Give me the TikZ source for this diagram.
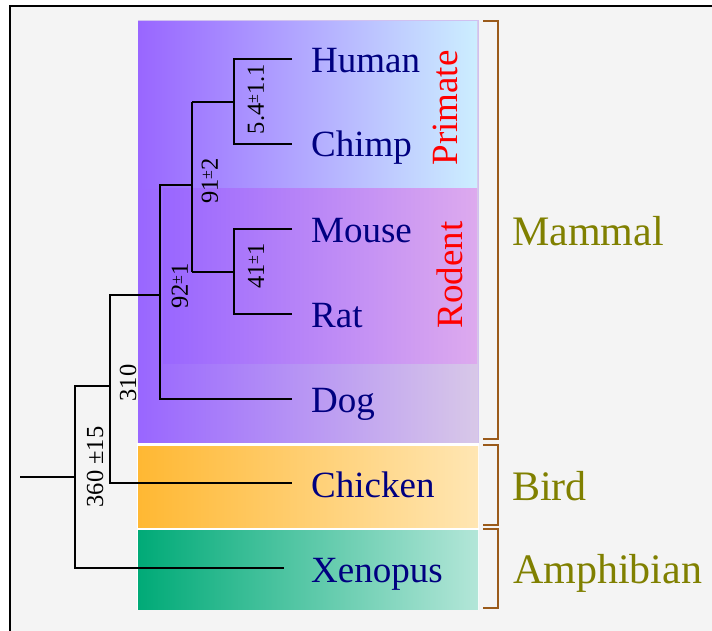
\documentclass[tikz,border=0pt]{standalone}
\usepackage{fontspec}
\setmainfont{Liberation Serif}
\definecolor{navytx}{HTML}{000080}
\definecolor{olivetx}{HTML}{808000}
\definecolor{bgray}{HTML}{F4F4F4}
\definecolor{mpurple}{HTML}{9966FF}
\definecolor{mlav}{HTML}{D8C8E8}
\definecolor{mborder}{HTML}{D0C0F0}
\definecolor{pblue}{HTML}{CCEEFF}
\definecolor{rpink}{HTML}{DDAAEE}
\definecolor{borange}{HTML}{FFB833}
\definecolor{blight}{HTML}{FFE6B3}
\definecolor{agreen}{HTML}{00AA77}
\definecolor{alight}{HTML}{B3E6D8}
\definecolor{brk}{HTML}{9A5A1A}
\newcommand\pmsmall{\raisebox{.25em}{\fontsize{16}{16}\selectfont ±}}
\begin{document}
\begin{tikzpicture}[x=1pt,y=-1pt,
  taxon/.style={anchor=base west, inner sep=0, text=navytx, font=\fontsize{37}{40}\selectfont},
  clade/.style={rotate=90, inner sep=0, text=red, font=\fontsize{37}{40}\selectfont},
  group/.style={anchor=base west, inner sep=0, text=olivetx, font=\fontsize{42}{46}\selectfont},
  age/.style={rotate=90, inner sep=0, font=\fontsize{24.5}{26}\selectfont},
  branch/.style={line width=1.5pt, black},
  bracket/.style={line width=1.8pt, brk}]
\useasboundingbox (0,0) rectangle (712,631);
% frame
\fill[bgray] (10,6) rectangle (712,631);
\draw[line width=2pt] (10,632) -- (10,6) -- (713,6);
% colored boxes
\fill[white] (137,443) rectangle (479,610);
\shade[left color=mpurple, right color=mlav] (138,21) rectangle (478.5,442.5);
\draw[mborder, line width=1pt] (138,21) -- (478.5,21) -- (478.5,442.5);
\shade[left color=mpurple, right color=pblue] (138,21.5) rectangle (477,189);
\shade[left color=mpurple, right color=rpink] (163,189) rectangle (477,363);
\shade[left color=borange, right color=blight] (138,446) rectangle (478,527);
\shade[left color=agreen, right color=alight] (138,530) rectangle (478,609);
% brackets
\draw[bracket] (483,21) -- (498,21) -- (498,439) -- (483,439);
\draw[bracket] (483,445) -- (498,445) -- (498,525) -- (483,525);
\draw[bracket] (483,529) -- (498,529) -- (498,608) -- (483,608);
% leaf ends
\coordinate (hu) at (292,59);
\coordinate (ch) at (292,144);
\coordinate (mo) at (292,229);
\coordinate (ra) at (292,314);
\coordinate (do) at (292,399);
\coordinate (ck) at (292,483);
\coordinate (xe) at (284,568);
% internal joints
\coordinate (n1) at (234,102);
\coordinate (a1) at (192,102);
\coordinate (n2) at (234,272);
\coordinate (a2) at (192,272);
\coordinate (n3) at (192,185);
\coordinate (b1) at (160,185);
\coordinate (n4) at (160,295);
\coordinate (c1) at (110,295);
\coordinate (n5) at (110,386);
\coordinate (d1) at (75,386);
\coordinate (n6) at (75,477);
\coordinate (root) at (20,477);
% branches
\draw[branch] (hu) -| (n1) |- (ch);
\draw[branch] (n1) -- (a1);
\draw[branch] (mo) -| (n2) |- (ra);
\draw[branch] (n2) -- (a2);
\draw[branch] (a1) -- (a2);
\draw[branch] (n3) -- (b1) |- (do);
\draw[branch] (n4) -- (c1) |- (ck);
\draw[branch] (n5) -- (d1) |- (xe);
\draw[branch] (root) -- (n6);
% taxa
\node[taxon] (thu) at (311,73) {Human};
\node[taxon] (tch) at (311,157) {Chimp};
\node[taxon] (tmo) at (311,242) {Mouse};
\node[taxon] (tra) at (311,327) {Rat};
\node[taxon] (tdo) at (311,412) {Dog};
\node[taxon] (tck) at (311,497) {Chicken};
\node[taxon] (txe) at (311,582) {Xenopus};
% clades
\node[clade] (prim) at (445,108) {Primate};
\node[clade] (rod) at (450,275) {Rodent};
% groups
\node[group] (gm) at (512,245) {Mammal};
\node[group] (gb) at (512,500) {Bird};
\node[group] (ga) at (513,583) {Amphibian};
% ages
\node[age] (l1) at (256,99) {5.4\pmsmall1.1};
\node[age] (l2) at (210,181) {91\pmsmall2};
\node[age] (l3) at (256,266) {41\pmsmall1};
\node[age] (l4) at (180,286) {92\pmsmall1};
\node[age] (l5) at (128,383) {310};
\node[age] (l6) at (95,467) {360 ±15};
\end{tikzpicture}
\end{document}
